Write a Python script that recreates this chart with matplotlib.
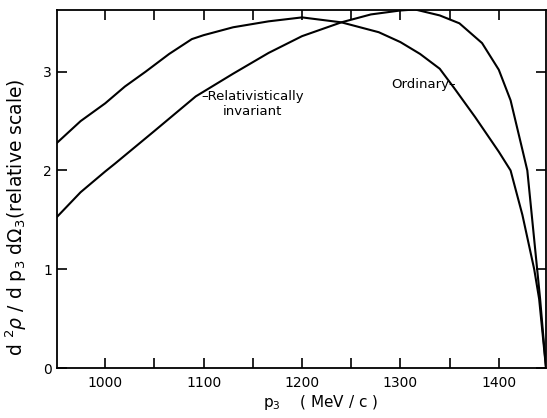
import matplotlib.pyplot as plt
from matplotlib.ticker import MultipleLocator

# values
p3_ord = [951, 975, 1000, 1020, 1041, 1065, 1088, 1100, 1130, 1166, 1200, 1240,
          1278, 1300, 1320, 1340, 1355, 1376, 1400, 1412, 1424, 1436, 1441, 1448]
rate_ord = [2.28, 2.50, 2.68, 2.85, 3.00, 3.18, 3.33, 3.37, 3.45, 3.51, 3.55, 3.50,
            3.40, 3.30, 3.18, 3.03, 2.83, 2.54, 2.19, 2.00, 1.55, 1.00, 0.70, 0.00]

p3_rel = [951, 975, 1000, 1010, 1050, 1092, 1130, 1166, 1200, 1240, 1270, 1300,
          1315, 1340, 1360, 1383, 1400, 1412, 1424, 1429, 1439, 1442, 1448]
rate_rel = [1.53, 1.78, 1.99, 2.07, 2.40, 2.75, 2.98, 3.19, 3.36, 3.50, 3.58, 3.62,
            3.63, 3.57, 3.49, 3.29, 3.02, 2.71, 2.21, 2.00, 1.00, 0.70, 0.00]

x_ticks = [1000, 1100, 1200, 1300, 1400]
y_ticks = [0, 1, 2, 3]

fig = plt.figure(figsize=(5.47, 4.18), dpi=100)
ax = fig.add_axes([0.1042, 0.1196, 0.8940, 0.8565])

ax.plot(p3_ord, rate_ord, color='black', lw=1.5)
ax.plot(p3_rel, rate_rel, color='black', lw=1.5)

ax.set_xlim(951, 1448)
ax.set_ylim(0, 3.625)
ax.set_xticks(x_ticks)
ax.xaxis.set_minor_locator(MultipleLocator(50))
ax.set_yticks(y_ticks)
ax.tick_params(which='both', direction='in', length=7, width=1.2,
               top=True, right=True, labelsize=10)
ax.tick_params(axis='x', pad=6)
for s in ax.spines.values():
    s.set_linewidth(1.3)

# curve labels
ax.text(1150, 2.67, '\u2013Relativistically\ninvariant', ha='center', va='center',
        fontsize=9.5, linespacing=1.2)
ax.text(1356, 2.87, 'Ordinary\u2013', ha='right', va='center', fontsize=9.5)

ax.set_ylabel(r'd $^{2}\rho$ / d p$_{3}$ d$\Omega_{3}$(relative scale)', fontsize=13.5)
ax.yaxis.set_label_coords(-0.058, 0.42)
fig.text(0.585, 0.015, r'p$_{3}$    ( MeV / c )', ha='center', va='bottom', fontsize=11)

fig.savefig('out.png', dpi=100)
